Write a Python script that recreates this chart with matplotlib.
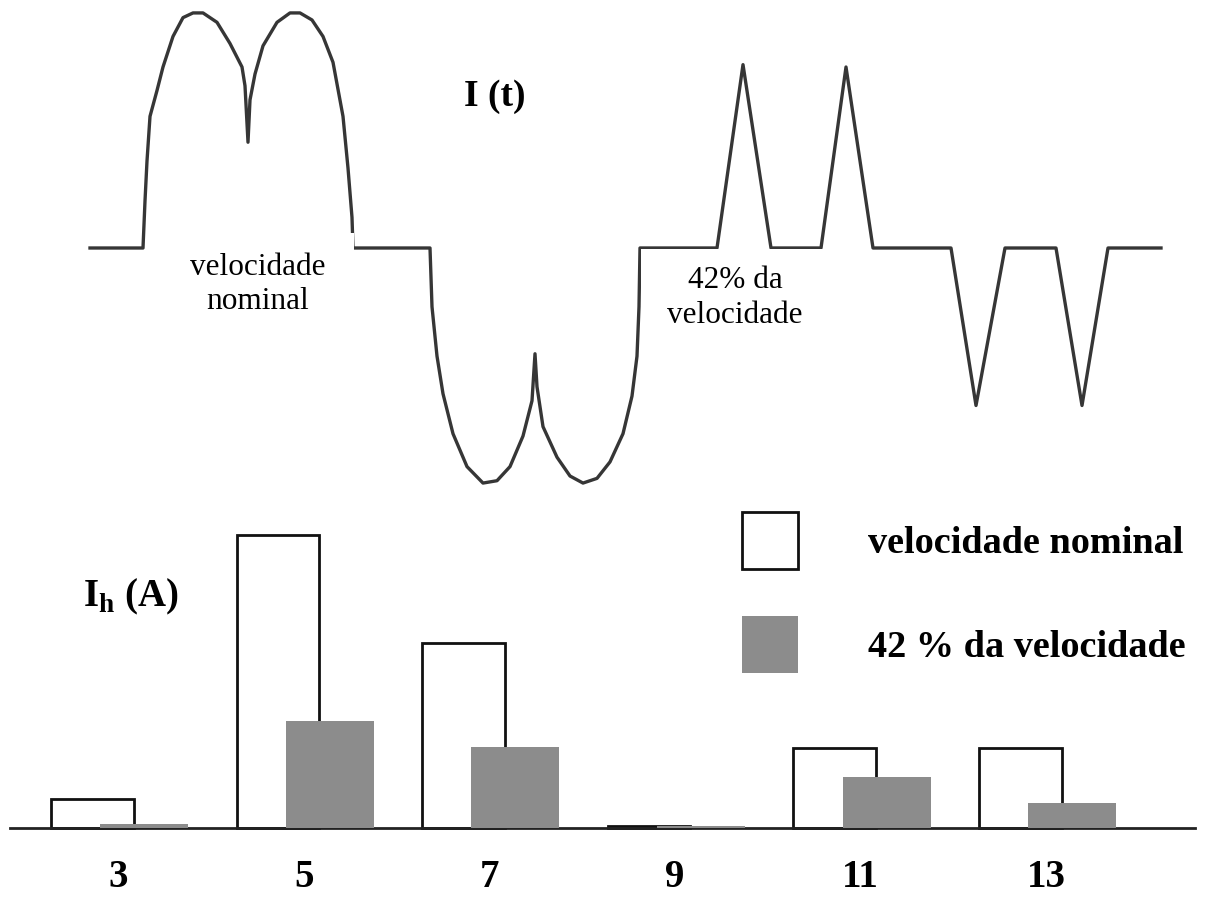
import matplotlib
matplotlib.use('Agg')
import numpy as np
import matplotlib.pyplot as plt
from matplotlib.patches import Rectangle

# Forma de onda I(t) (t em unidades arbitrarias, i relativo ao pico)
t_onda = [0.0, 5.3, 5.5, 5.7, 6.0, 6.7, 7.3, 8.3, 9.3, 10.3, 11.3, 12.7, 14.0, 15.2, 15.5, 15.8,
          16.0, 16.5, 17.3, 18.7, 20.0, 21.0, 22.2, 23.3, 24.3, 25.3, 25.8, 26.2, 26.3,
          34.0, 34.2, 34.7, 35.3, 36.3, 37.7, 39.3, 40.7, 42.0, 43.3, 44.2, 44.5,
          44.7, 45.3, 46.7, 48.0, 49.3, 50.7, 52.0, 53.3, 54.2, 54.7, 54.9, 55.0,
          62.7, 65.3, 68.1, 73.1, 75.6, 78.3,
          86.1, 88.6, 91.5, 96.6, 99.2, 101.8, 107.1]
i_onda = [0.0, 0.0, 0.20, 0.37, 0.56, 0.67, 0.77, 0.90, 0.98, 1.00, 1.00, 0.96, 0.87, 0.77, 0.69, 0.45,
          0.63, 0.74, 0.86, 0.96, 1.00, 1.00, 0.97, 0.90, 0.79, 0.56, 0.34, 0.13, 0.0,
          0.0, -0.25, -0.46, -0.62, -0.79, -0.93, -1.00, -0.99, -0.93, -0.80, -0.65, -0.45,
          -0.59, -0.76, -0.89, -0.97, -1.00, -0.98, -0.91, -0.79, -0.63, -0.46, -0.25, 0.0,
          0.0, 0.78, 0.0, 0.0, 0.77, 0.0,
          0.0, -0.67, 0.0, 0.0, -0.67, 0.0, 0.0]

# Espectro harmonico
harmonicas = [3, 5, 7, 9, 11, 13]
ih_nominal = [9.9, 100, 63.1, 0.8, 27.3, 27.3]
ih_42 = [1.2, 36.5, 27.6, 0.8, 17.4, 8.5]
rotulos = ['velocidade nominal', '42 % da velocidade']

plt.rcParams['font.family'] = ['Liberation Serif', 'DejaVu Serif']
plt.rcParams['mathtext.fontset'] = 'custom'
plt.rcParams['mathtext.rm'] = 'Liberation Serif'
plt.rcParams['mathtext.bf'] = 'Liberation Serif:bold'

fig = plt.figure(figsize=(12.2, 8.97), dpi=100)

# --- forma de onda ---
ax1 = fig.add_axes([0, 0.4426, 1, 0.5574])
ax1.set_xlim(-9.0, 113.0)
ax1.set_ylim(-1.072, 1.055)
ax1.axis('off')
ax1.plot(t_onda, i_onda, color='#363636', linewidth=2.4, solid_joinstyle='round', zorder=2)

# caixas brancas coladas sobre a figura original
ax1.add_patch(Rectangle((7.0, -0.33), 19.4, 0.394, facecolor='white', edgecolor='none', zorder=3))
ax1.add_patch(Rectangle((55.1, -0.42), 18.6, 0.414, facecolor='white', edgecolor='none', zorder=3))
ax1.text(16.8, -0.021, 'velocidade\nnominal', ha='center', va='top', fontsize=22.5,
         linespacing=1.25, zorder=4)
ax1.text(64.5, -0.076, '42% da\nvelocidade', ha='center', va='top', fontsize=22.5,
         linespacing=1.3, zorder=4)
ax1.text(40.5, 0.643, 'I (t)', ha='center', va='center', fontsize=27, fontweight='bold')

# --- barras ---
ax2 = fig.add_axes([10 / 1220, 69 / 897, 1185 / 1220, 328 / 897])
ax2.set_xlim(1.834, 14.603)
ax2.set_ylim(0, 111.9)
x = np.array(harmonicas, dtype=float)
b1 = ax2.bar(x - 0.28, ih_nominal, width=0.89, facecolor='white', edgecolor='#111111',
             linewidth=2.0, label=rotulos[0], zorder=2, clip_on=False)
b2 = ax2.bar(x + 0.28, ih_42, width=0.95, color='#8c8c8c', linewidth=0,
             label=rotulos[1], zorder=3, clip_on=False)

for s in ['top', 'left', 'right']:
    ax2.spines[s].set_visible(False)
ax2.spines['bottom'].set_linewidth(2.0)
ax2.spines['bottom'].set_color('#222222')
ax2.set_yticks([])
ax2.set_xticks(harmonicas)
ax2.set_xticklabels([str(h) for h in harmonicas], fontsize=28, fontweight='bold')
ax2.tick_params(axis='x', length=0, pad=22)

ax2.text(2.621, 78.8, r'I$_\mathbf{h}$ (A)', ha='left', va='center', fontsize=28, fontweight='bold')

ax2.legend(handles=[b1, b2], labels=rotulos, loc='upper left',
           bbox_to_anchor=(742 / 1220, 1 - 512 / 897), bbox_transform=fig.transFigure,
           frameon=False, prop={'size': 27.5, 'weight': 'bold'},
           handlelength=1.47, handleheight=1.92, handletextpad=1.83,
           labelspacing=1.23, borderpad=0, borderaxespad=0)

fig.savefig('out.png', dpi=100)
